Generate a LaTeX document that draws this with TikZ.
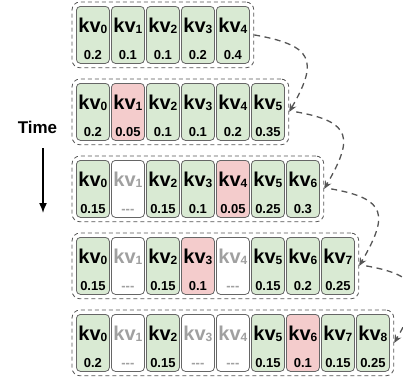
\documentclass[tikz,border=0pt]{standalone}
\usepackage{fontspec}
\setmainfont{Liberation Sans}
\usetikzlibrary{fit,arrows.meta}
\definecolor{cgreen}{HTML}{D9EAD3}
\definecolor{cred}{HTML}{F4CCCC}
\definecolor{cborder}{HTML}{666666}
\definecolor{cdash}{HTML}{555555}
\definecolor{cfade}{HTML}{A0A0A0}
\newcommand\nodash{-{}-{}-}
\tikzset{
  cellbase/.style={draw=cborder, line width=0.8pt, rounded corners=4pt,
    minimum width=33pt, minimum height=57pt, inner sep=0pt, anchor=north west},
  cellk/.style={cellbase, fill=cgreen},
  cellv/.style={cellbase, fill=cred},
  celle/.style={cellbase, fill=white},
  labk/.style={text=black, inner sep=0pt},
  labv/.style={text=black, inner sep=0pt},
  labe/.style={text=cfade, inner sep=0pt},
  kvfont/.style={font=\bfseries\fontsize{20}{20}\selectfont},
  numfont/.style={font=\bfseries\fontsize{13}{13}\selectfont},
  outerbox/.style={draw=cdash, dash pattern=on 4pt off 3pt, line width=0.8pt,
    rounded corners=8pt, inner sep=4pt},
  conn/.style={draw=cdash, line width=1.3pt, dash pattern=on 6pt off 4.5pt,
    -{Stealth[length=8pt,width=7pt,fill=cdash]}},
}
\newcommand\kvrow[3]{%
  \foreach \t/\v [count=\j from 0] in {#3} {
    \node[cell\t] (r#1c\j) at ({76+35*\j}, {-(6+77*(#1-1))}) {};
    \node[lab\t, kvfont, anchor=base] (r#1k\j) at ([yshift=-26pt]r#1c\j.north)
      {kv\raisebox{-1.5pt}{\fontsize{12}{12}\selectfont\j}};
    \node[lab\t, numfont, anchor=base] (r#1n\j) at ([yshift=4pt]r#1c\j.south) {\v};
  }
  \node[outerbox, fit=(r#1c0)(r#1c#2)] (r#1) {};
}
\begin{document}
\begin{tikzpicture}[x=1pt,y=1pt]
\useasboundingbox (0,0) rectangle (403,-380);
\kvrow{1}{4}{k/0.2, k/0.1, k/0.1, k/0.2, k/0.4}
\kvrow{2}{5}{k/0.2, v/0.05, k/0.1, k/0.1, k/0.2, k/0.35}
\kvrow{3}{6}{k/0.15, e/\nodash, k/0.15, k/0.1, v/0.05, k/0.25, k/0.3}
\kvrow{4}{7}{k/0.15, e/\nodash, k/0.15, v/0.1, e/\nodash, k/0.15, k/0.2, k/0.25}
\kvrow{5}{8}{k/0.2, e/\nodash, k/0.15, e/\nodash, e/\nodash, k/0.15, v/0.1, k/0.15, k/0.25}

\draw[conn] (r1.east) to[out=-10, in=60, looseness=1.8] (r2.east);
\draw[conn] ([xshift=7pt]r2.east) to[out=-10, in=60, looseness=1.8] (r3.east);
\draw[conn] ([xshift=7pt]r3.east) to[out=-10, in=60, looseness=1.8] (r4.east);
\draw[conn] ([xshift=7pt]r4.east) to[out=-10, in=60, looseness=1.8] (r5.east);

\node[font=\bfseries\fontsize{17}{17}\selectfont, anchor=base, inner sep=0pt] (time) at (37.5,-133.3) {Time};
\coordinate (tstart) at (43,-148);
\coordinate (tend) at (43,-213);
\draw[line width=1.5pt, -{Latex[length=10pt,width=8pt]}] (tstart) -- (tend);
\end{tikzpicture}
\end{document}
